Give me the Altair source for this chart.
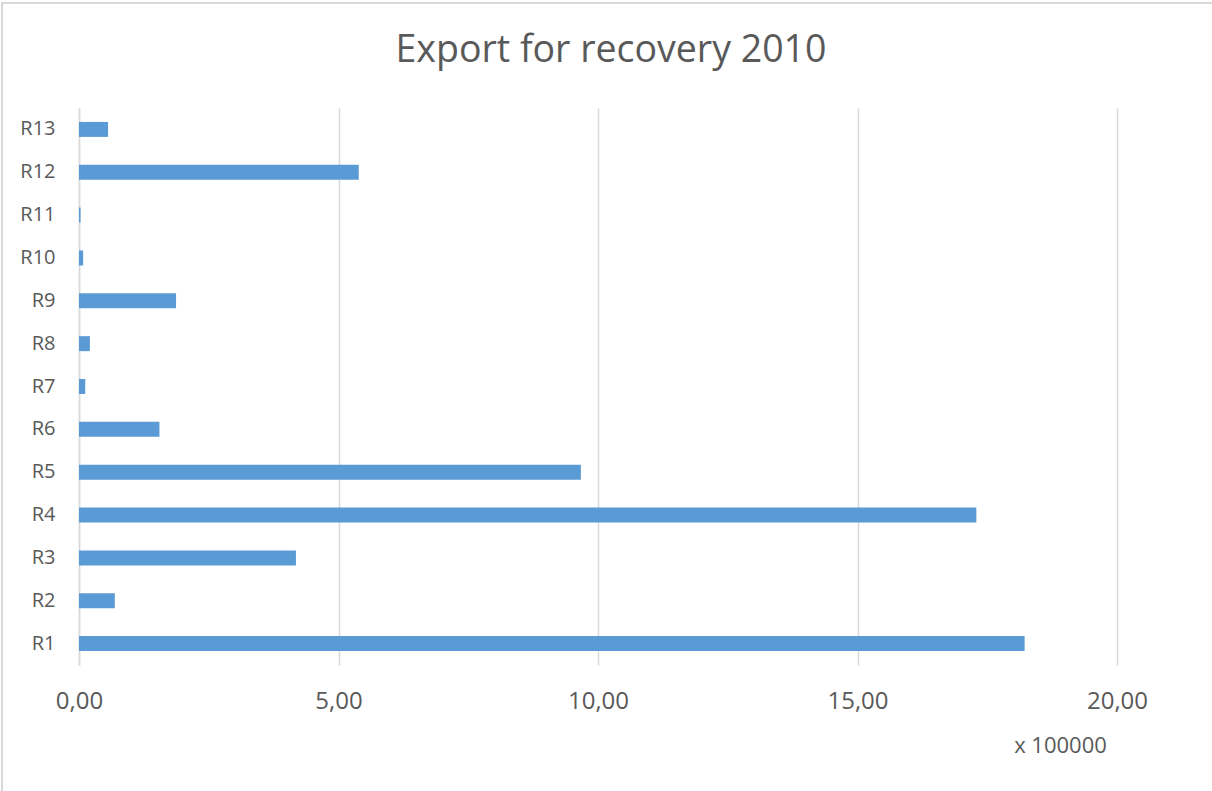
import altair as alt
import pandas as pd

regions = ["R1", "R2", "R3", "R4", "R5", "R6", "R7", "R8", "R9", "R10", "R11", "R12", "R13"]
values = [18.22, 0.69, 4.18, 17.29, 9.67, 1.55, 0.12, 0.21, 1.87, 0.08, 0.03, 5.39, 0.56]
x_ticks = [0, 5, 10, 15, 20]

df = pd.DataFrame({"region": regions, "value": values})
order = list(reversed(regions))

FONT = "Open Sans"
GREY = "#595959"

bars = alt.Chart(df).mark_bar(color="#5b9bd5").encode(
    x=alt.X("value:Q",
            scale=alt.Scale(domain=[0, 20], nice=False),
            axis=alt.Axis(values=x_ticks, format=".2f", labelExpr="replace(datum.label, '.', ',')",
                          title="x 100000", titleX=981, titleY=80, titleAnchor="middle",
                          titleAlign="center", titleBaseline="middle",
                          titleFontSize=22, titleFontWeight="normal", titleColor=GREY, titleFont=FONT,
                          labelFontSize=24, labelColor=GREY, labelFont=FONT, labelPadding=24,
                          labelFlush=False, labelOverlap=False,
                          grid=True, gridColor="#d9d9d9", gridWidth=1.5,
                          domain=False, ticks=False)),
    y=alt.Y("region:N", sort=order,
            scale=alt.Scale(paddingInner=0.65, paddingOuter=0.325),
            axis=alt.Axis(title=None, labelFontSize=20, labelColor=GREY, labelFont=FONT,
                          labelPadding=24, domain=True, domainColor="#d9d9d9", domainWidth=1.5,
                          ticks=False, grid=False)),
)

frame = alt.Chart(df).mark_rect(fill=None, stroke="#d9d9d9", strokeWidth=2).encode(
    x=alt.value(-77), x2=alt.value(1140), y=alt.value(-105), y2=alt.value(700)
)

chart = alt.layer(frame, bars).properties(
    width=1038, height=557,
    background="white",
    title=alt.TitleParams("Export for recovery 2010", fontSize=37.5, font=FONT, color=GREY,
                          fontWeight="normal", anchor="middle", dx=13, offset=-97,
                          baseline="alphabetic", frame="group"),
    padding={"left": 79, "top": 108, "right": 95, "bottom": 126},
    autosize=alt.AutoSizeParams(type="none"),
).configure_view(strokeWidth=0, stroke="transparent")

chart.save("out.html", embed_options={"renderer": "svg", "actions": False})
